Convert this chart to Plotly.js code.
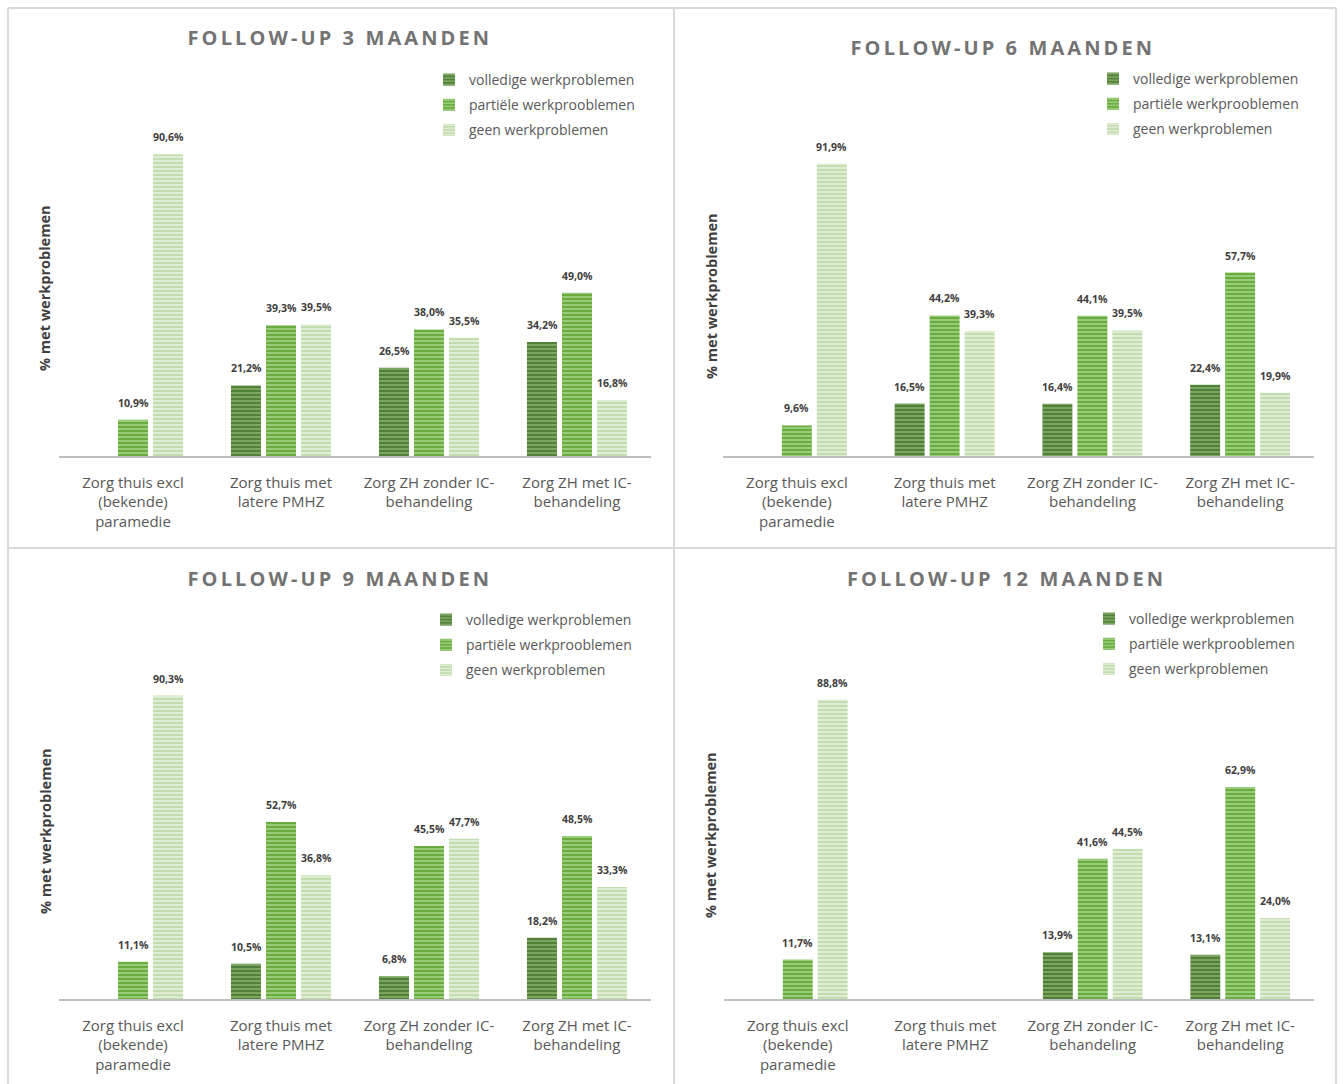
<!DOCTYPE html>
<html>
<head>
<meta charset="utf-8">
<script src="https://cdn.plot.ly/plotly-3.0.1.min.js"></script>
<style>html,body{margin:0;padding:0;background:#fff;}</style>
</head>
<body>
<div id="chart" style="width:1343px;height:1084px;"></div>
<script>
// ---------- DATA ----------
const categories = ["Zorg thuis excl<br>(bekende)<br>paramedie", "Zorg thuis met<br>latere PMHZ", "Zorg ZH zonder IC-<br>behandeling", "Zorg ZH met IC-<br>behandeling"];
const seriesNames = ["volledige werkproblemen", "partiële werkprooblemen", "geen werkproblemen"];
const panelTitles = ["FOLLOW-UP 3 MAANDEN", "FOLLOW-UP 6 MAANDEN", "FOLLOW-UP 9 MAANDEN", "FOLLOW-UP 12 MAANDEN"];
const yTitle = "% met werkproblemen";

const volledige3 = [null, 21.2, 26.5, 34.2];
const partiele3  = [10.9, 39.3, 38.0, 49.0];
const geen3      = [90.6, 39.5, 35.5, 16.8];

const volledige6 = [null, 16.5, 16.4, 22.4];
const partiele6  = [9.6, 44.2, 44.1, 57.7];
const geen6      = [91.9, 39.3, 39.5, 19.9];

const volledige9 = [null, 10.5, 6.8, 18.2];
const partiele9  = [11.1, 52.7, 45.5, 48.5];
const geen9      = [90.3, 36.8, 47.7, 33.3];

const volledige12 = [null, null, 13.9, 13.1];
const partiele12  = [11.7, null, 41.6, 62.9];
const geen12      = [88.8, null, 44.5, 24.0];

const panels = [
  [volledige3, partiele3, geen3],
  [volledige6, partiele6, geen6],
  [volledige9, partiele9, geen9],
  [volledige12, partiele12, geen12]
];

// ---------- STYLE ----------
const W = 1343, H = 1084;
const px = x => x / W;
const py = y => 1 - y / H;
const FONT = "Open Sans, Noto Sans, sans-serif";
const bgCols = ["#52803a", "#6aac40", "#c3dcb0"];
const fgCols = ["#80aa64", "#9fd07e", "#e3efda"];

// plot areas in pixels: [x0, x1, yTop(100%), yBase(0%)]
const areas = [
  [59, 651, 123, 456],
  [723, 1314, 138, 456],
  [59, 651, 663, 999],
  [724, 1314, 662, 999]
];
const titlePos = [[340, 37], [1003, 48], [340, 578], [1006, 578]];
const yTitlePos = [[45, 288], [711, 296], [45, 831], [711, 835]];
const legendPos = [[429, 64], [1093, 63], [426, 604], [1089, 603]];

const traces = [];
const annotations = [];
const layout = {
  width: W, height: H, autosize: false,
  margin: {l: 0, r: 0, t: 0, b: 0},
  paper_bgcolor: "#fff", plot_bgcolor: "rgba(0,0,0,0)",
  barmode: "group", bargap: 0.29, bargroupgap: 0.143,
  font: {family: FONT, color: "#595959"},
  showlegend: true,
  shapes: [],
  annotations: annotations
};

panels.forEach((series, p) => {
  const sfx = p === 0 ? "" : String(p + 1);
  const xa = "x" + sfx, ya = "y" + sfx;
  const lg = "legend" + sfx;
  const a = areas[p];
  layout["xaxis" + sfx] = {
    domain: [px(a[0]), px(a[1])], anchor: ya,
    type: "category", range: [-0.5, 3.5],
    showline: true, linecolor: "#bfbfbf", linewidth: 1.5,
    ticks: "", showgrid: false, zeroline: false,
    ticklabelstandoff: 12,
    tickfont: {family: FONT, size: 15, color: "#595959"},
    fixedrange: true
  };
  layout["yaxis" + sfx] = {
    domain: [py(a[3]), py(a[2])], anchor: xa,
    range: [0, 100], showticklabels: false, showgrid: false,
    zeroline: false, showline: false, ticks: "", fixedrange: true
  };
  layout[lg] = {
    x: px(legendPos[p][0]), y: py(legendPos[p][1]),
    xanchor: "left", yanchor: "top",
    bgcolor: "rgba(0,0,0,0)",
    font: {family: FONT, size: 14, color: "#595959"},
    traceorder: "grouped", tracegroupgap: 4,
    itemwidth: 30
  };
  series.forEach((vals, i) => {
    traces.push({
      type: "bar", name: seriesNames[i],
      x: categories, y: vals,
      xaxis: xa, yaxis: ya, legend: lg,
      legendgroup: "g" + p + "_" + i,
      marker: {
        color: bgCols[i],
        line: {width: 0},
        pattern: {shape: "-", bgcolor: bgCols[i], fgcolor: fgCols[i], size: 4, solidity: 0.45, fillmode: "replace"}
      },
      hoverinfo: "skip"
    });
    vals.forEach((v, k) => {
      if (v === null) return;
      annotations.push({
        x: categories[k], y: v, xref: xa, yref: ya,
        text: v.toFixed(1).replace(".", ",") + "%",
        showarrow: false, xanchor: "center", yanchor: "bottom",
        xshift: (i - 1) * 35, yshift: 8,
        font: {family: FONT, size: 10.5, color: "#404040", weight: "bold"}
      });
    });
  });
  annotations.push({
    x: px(titlePos[p][0]), y: py(titlePos[p][1]), xref: "paper", yref: "paper",
    text: panelTitles[p], showarrow: false, xanchor: "center", yanchor: "middle",
    font: {family: FONT, size: 20, color: "#737373", weight: "bold"}
  });
  annotations.push({
    x: px(yTitlePos[p][0]), y: py(yTitlePos[p][1]), xref: "paper", yref: "paper",
    text: yTitle, showarrow: false, textangle: -90, xanchor: "center", yanchor: "middle",
    font: {family: FONT, size: 14.5, color: "#404040", weight: "bold"}
  });
});

// panel borders
const borderLines = [
  [8, 8, 1336, 8], [8, 548, 1336, 548],
  [8, 8, 8, 1084], [674, 8, 674, 1084], [1336, 8, 1336, 1084]
];
borderLines.forEach(b => {
  layout.shapes.push({type: "line", xref: "paper", yref: "paper",
    x0: px(b[0]), y0: py(b[1]), x1: px(b[2]), y1: py(b[3]),
    line: {color: "#d9d9d9", width: 2}});
});

Plotly.newPlot("chart", traces, layout, {staticPlot: true}).then(() => {
  document.querySelectorAll("text.annotation-text").forEach(t => {
    if (t.textContent.indexOf("FOLLOW-UP") === 0) {
      t.style.letterSpacing = "3.1px";
    }
  });
});
</script>
</body>
</html>
